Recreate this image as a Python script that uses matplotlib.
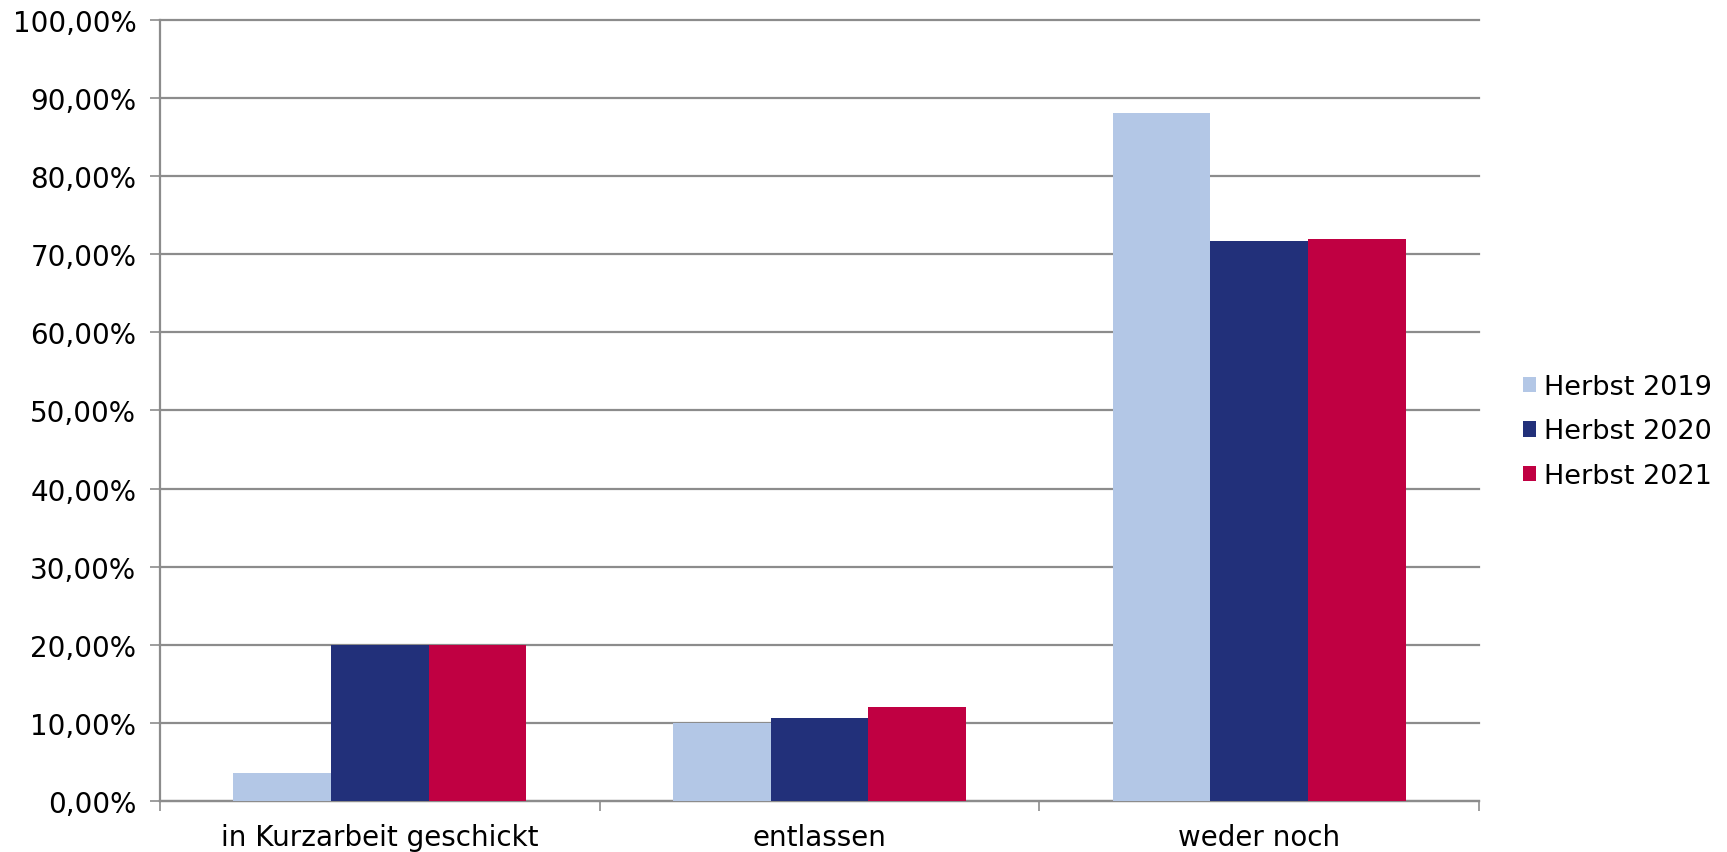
import matplotlib
matplotlib.use("Agg")
import matplotlib.pyplot as plt
import numpy as np
from matplotlib.ticker import FuncFormatter, FixedLocator
from matplotlib.patches import Patch

categories = ["in Kurzarbeit geschickt", "entlassen", "weder noch"]
series_names = ["Herbst 2019", "Herbst 2020", "Herbst 2021"]
herbst_2019 = [3.6, 10.0, 88.1]
herbst_2020 = [20.0, 10.6, 71.7]
herbst_2021 = [20.0, 12.0, 72.0]
colors = ["#B3C7E6", "#22307A", "#C00042"]

fig = plt.figure(figsize=(17.27, 8.53), dpi=100)
ax = fig.add_axes([0.0926, 0.0598, 0.7638, 0.9156])

x = np.arange(len(categories))
w = 2 / 9
for i, (vals, c) in enumerate(zip([herbst_2019, herbst_2020, herbst_2021], colors)):
    ax.bar(x + (i - 1) * w, vals, width=w, color=c, edgecolor="none", zorder=3)

grid_c = "#8C8C8C"
ax.set_ylim(0, 100)
ax.set_xlim(-0.5, 2.5)
ax.set_yticks(np.arange(0, 101, 10))
ax.yaxis.set_major_formatter(FuncFormatter(lambda v, p: f"{v:.2f}".replace(".", ",") + "%"))
ax.grid(axis="y", color=grid_c, linewidth=1.6, zorder=0)
for gl in ax.get_ygridlines():
    gl.set_clip_on(False)
ax.set_xticks(x)
ax.set_xticklabels(categories)
ax.xaxis.set_minor_locator(FixedLocator([-0.5, 0.5, 1.5, 2.5]))
ax.tick_params(axis="x", which="major", length=0, pad=15.5, labelsize=20)
ax.tick_params(axis="x", which="minor", length=7, width=1.2, color=grid_c)
ax.tick_params(axis="y", length=7, width=1.2, color=grid_c, pad=10, labelsize=20)

for s in ["top", "right"]:
    ax.spines[s].set_visible(False)
for s in ["left", "bottom"]:
    ax.spines[s].set_color(grid_c)
    ax.spines[s].set_linewidth(1.6)

handles = [Patch(facecolor=c, edgecolor="none") for c in colors]
fig.legend(handles, series_names, loc="center left", bbox_to_anchor=(0.8755, 0.493),
           frameon=False, fontsize=19.5, handlelength=0.5, handleheight=0.5,
           handletextpad=0.3, labelspacing=0.68, borderaxespad=0)

fig.savefig("out.png", dpi=100)
